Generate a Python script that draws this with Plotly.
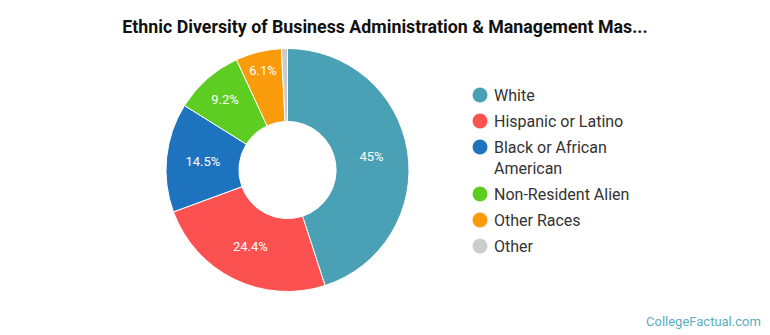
import plotly.graph_objects as go

categories = ["White", "Hispanic or Latino", "Black or African American",
              "Non-Resident Alien", "Other Races", "Other"]
legend_labels = ["White", "Hispanic or Latino", "Black or African<br>American",
                 "Non-Resident Alien", "Other Races", "Other"]
values = [45, 24.4, 14.5, 9.2, 6.1, 0.8]
colors = ["#4aa0b5", "#fc5151", "#1e73be", "#5ecd22", "#f99b0a", "#cccccc"]

title = "Ethnic Diversity of Business Administration & Management Mas..."

W, H = 770, 335
cx, cy, R = 287.5, 170, 121.5

labels_txt = [f"{v:g}%" if v >= 1 else "" for v in values]

fig = go.Figure()
fig.add_trace(go.Pie(
    labels=categories, values=values, text=labels_txt,
    textinfo="text", textposition="inside", insidetextorientation="horizontal",
    textfont=dict(family="Roboto", size=13, color="white"),
    marker=dict(colors=colors, line=dict(color="white", width=1)),
    hole=0.40, sort=False, direction="clockwise", rotation=0,
    showlegend=False, hoverinfo="label+percent",
    domain=dict(x=[(cx - R) / W, (cx + R) / W], y=[(H - cy - R) / H, (H - cy + R) / H]),
))

shapes = []
annotations = []
lx, ly0 = 480, 95
step = 26
y = ly0
for lab, col in zip(legend_labels, colors):
    r = 7.5
    shapes.append(dict(type="circle", xref="paper", yref="paper",
                       x0=(lx - r) / W, x1=(lx + r) / W,
                       y0=(H - y - r) / H, y1=(H - y + r) / H,
                       fillcolor=col, line=dict(width=0)))
    nlines = lab.count("<br>") + 1
    annotations.append(dict(text=lab, xref="paper", yref="paper",
                            x=492 / W, y=(H - y + 11) / H, xanchor="left", yanchor="top",
                            align="left", showarrow=False,
                            font=dict(family="Roboto", size=16, color="#333333")))
    y += step * nlines - (5 if nlines > 1 else 0)

annotations.append(dict(text="CollegeFactual.com", xref="paper", yref="paper",
                        x=763 / W, y=(H - 321) / H, xanchor="right", yanchor="middle",
                        showarrow=False, font=dict(family="Roboto", size=13, color="#5aaec0")))

fig.update_layout(
    width=W, height=H, margin=dict(l=0, r=0, t=0, b=0),
    paper_bgcolor="white", plot_bgcolor="white",
    title=dict(text="<b>" + title + "</b>", x=0.5, xanchor="center",
               y=(H - 27) / H, yanchor="middle",
               font=dict(family="Roboto", size=17.8, color="#111111")),
    shapes=shapes, annotations=annotations,
)

fig.write_html("out.html")
